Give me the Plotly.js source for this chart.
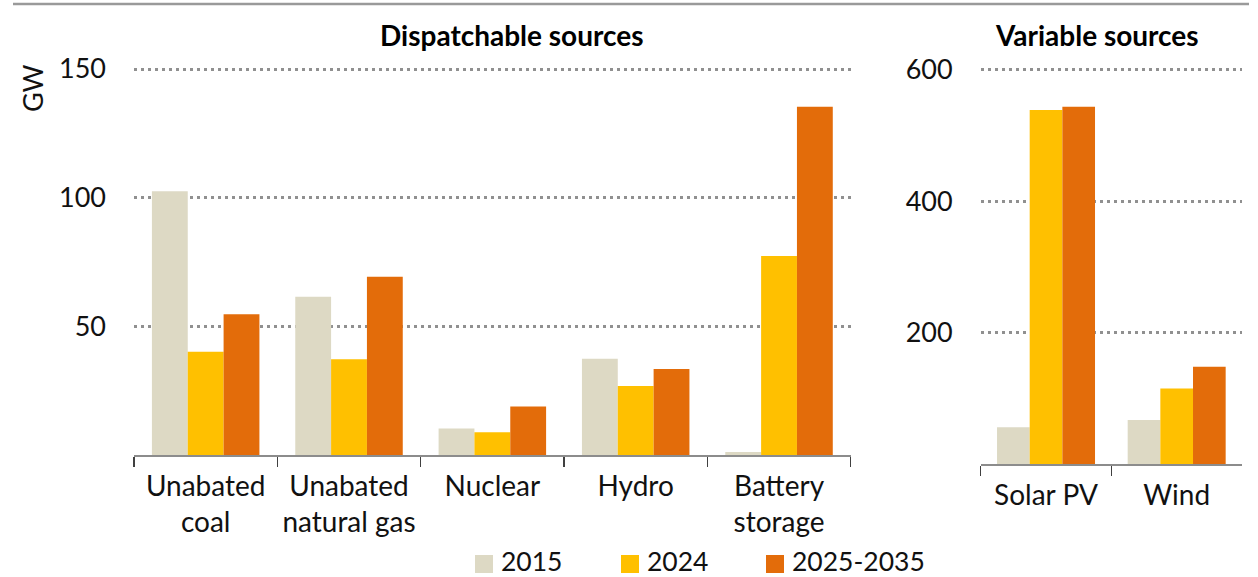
<!DOCTYPE html>
<html>
<head>
<meta charset="utf-8">
<script src="https://cdn.plot.ly/plotly-3.0.1.min.js"></script>
<style>html,body{margin:0;padding:0;background:#fff;}#chart{width:1258px;height:577px;}</style>
</head>
<body>
<div id="chart"></div>
<script>
// ---- data ----
const categoriesDisp = ["Unabated<br>coal", "Unabated<br>natural gas", "Nuclear", "Hydro", "Battery<br>storage"];
const categoriesVar = ["Solar PV", "Wind"];
const seriesNames = ["2015", "2024", "2025-2035"];
const disp2015 = [102.5, 61.5, 10.3, 37.4, 1.2];
const disp2024 = [40.1, 37.2, 8.8, 26.8, 77.3];
const disp2035 = [54.7, 69.3, 18.8, 33.4, 135.3];
const var2015 = [56, 67];
const var2024 = [539, 115];
const var2035 = [544, 148];
const leftTickVals = [50, 100, 150];
const leftTickText = ["50", "100", "150"];
const rightTickVals = [200, 400, 600];
const rightTickText = ["200", "400", "600"];
const panelTitles = ["Dispatchable sources", "Variable sources"];
const unitLabel = "GW";

const colors = ["#DDD9C4", "#FFC000", "#E36C0A"];
const FONT = "Lato, 'Open Sans', sans-serif";

const dispSeries = [disp2015, disp2024, disp2035];
const varSeries = [var2015, var2024, var2035];

const traces = [];
dispSeries.forEach((vals, i) => {
  traces.push({
    type: "bar", x: categoriesDisp, y: vals, name: seriesNames[i],
    legendgroup: seriesNames[i], showlegend: false,
    marker: {color: colors[i], line: {width: 0}},
    xaxis: "x", yaxis: "y", hoverinfo: "skip"
  });
});
varSeries.forEach((vals, i) => {
  traces.push({
    type: "bar", x: categoriesVar, y: vals, name: seriesNames[i],
    legendgroup: seriesNames[i], showlegend: false,
    marker: {color: colors[i], line: {width: 0}},
    xaxis: "x2", yaxis: "y2", hoverinfo: "skip"
  });
});

const W = 1258, H = 577;
const px = v => v / W;
const py = v => 1 - v / H;

// left panel: 0 at y=455, 150 at y=69 ; right panel: 0 at y=464, 600 at y=70
const leftTop = 152, rightTop = 608;
const leftTopPx = 455 - leftTop * (455 - 69) / 150;
const rightTopPx = 464 - rightTop * (464 - 70) / 600;

const xCommon = {
  type: "category", showgrid: false, zeroline: false,
  showline: true, linecolor: "#8c8c8c", linewidth: 2,
  ticks: "outside", tickson: "boundaries", ticklen: 10, tickwidth: 1.5, tickcolor: "#404040",
  ticklabelstandoff: 5,
  tickfont: {family: FONT, size: 28, color: "#111"}, fixedrange: true, automargin: false
};
const yCommon = {
  showgrid: true, gridcolor: "#909090", gridwidth: 3, griddash: "3px,4px",
  zeroline: false, showline: false, ticks: "", tickmode: "array",
  ticklabelstandoff: 27,
  tickfont: {family: FONT, size: 27, color: "#111"}, fixedrange: true, automargin: false
};

// legend drawn as paper shapes + text (positions in pixels)
const legendSquareX = [475, 621, 766];
const legendSize = 18, legendY = 564;
const legendShapes = seriesNames.map((n, i) => ({
  type: "rect", xref: "paper", yref: "paper",
  x0: px(legendSquareX[i]), x1: px(legendSquareX[i] + legendSize),
  y0: py(legendY - legendSize / 2), y1: py(legendY + legendSize / 2),
  fillcolor: colors[i], line: {width: 0}
}));
const legendTexts = seriesNames.map((n, i) => ({
  text: n, xref: "paper", yref: "paper",
  x: px(legendSquareX[i] + legendSize + 7), y: py(560.5),
  xanchor: "left", yanchor: "middle", showarrow: false, borderpad: 0,
  font: {family: FONT, size: 26.5, color: "#111"}
}));

const layout = {
  width: W, height: H, autosize: false,
  margin: {l: 0, r: 0, t: 0, b: 0, autoexpand: false},
  paper_bgcolor: "#fff", plot_bgcolor: "rgba(0,0,0,0)",
  barmode: "group", bargap: 0.25, bargroupgap: 0,
  font: {family: FONT, color: "#111"},
  xaxis: Object.assign({}, xCommon, {domain: [px(134), px(850.7)], anchor: "y"}),
  yaxis: Object.assign({}, yCommon, {domain: [py(455), py(leftTopPx)], range: [0, leftTop], anchor: "x",
    tickvals: leftTickVals, ticktext: leftTickText}),
  xaxis2: Object.assign({}, xCommon, {domain: [px(980.7), px(1242)], anchor: "y2"}),
  yaxis2: Object.assign({}, yCommon, {domain: [py(464), py(rightTopPx)], range: [0, rightTop], anchor: "x2",
    tickvals: rightTickVals, ticktext: rightTickText}),
  showlegend: false,
  shapes: [
    {type: "line", xref: "paper", yref: "paper", x0: px(13), x1: px(1249), y0: py(4), y1: py(4),
     line: {color: "#9a9a9a", width: 2.5}}
  ].concat(legendShapes),
  annotations: [
    {text: panelTitles[0], xref: "paper", yref: "paper", x: px(512), y: py(35),
     xanchor: "center", yanchor: "middle", showarrow: false,
     font: {family: FONT, size: 28, weight: 700, color: "#000"}},
    {text: panelTitles[1], xref: "paper", yref: "paper", x: px(1097), y: py(35),
     xanchor: "center", yanchor: "middle", showarrow: false,
     font: {family: FONT, size: 28, weight: 700, color: "#000"}},
    {text: unitLabel, xref: "paper", yref: "paper", x: px(32), y: py(88),
     xanchor: "center", yanchor: "middle", showarrow: false, textangle: -90,
     font: {family: FONT, size: 27, color: "#111"}}
  ].concat(legendTexts)
};

Plotly.newPlot("chart", traces, layout, {staticPlot: true, displayModeBar: false});
</script>
</body>
</html>
